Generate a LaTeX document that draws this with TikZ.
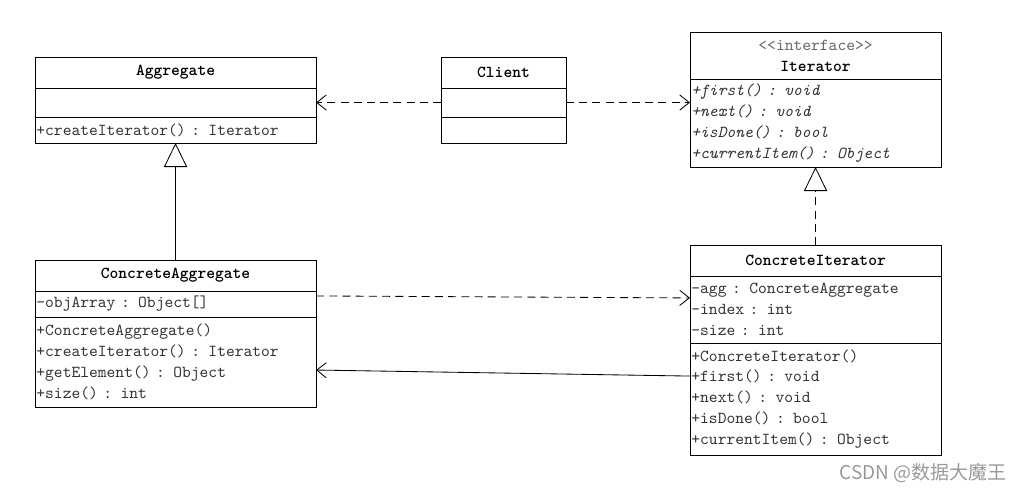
\documentclass[tikz,border=0pt]{standalone}
\usepackage{fontspec}
\setmonofont{lmmono10-regular.otf}[BoldFont=lmmonolt10-bold.otf, ItalicFont=lmmono10-italic.otf]
\newfontfamily\cjkfont{Noto Sans CJK SC}
\usetikzlibrary{positioning,arrows.meta}

\begin{document}
\begin{tikzpicture}[x=0.025cm, y=-0.025cm,
        umlfont/.style={font=\ttfamily\fontsize{11.9}{14.9}\selectfont},
        comp/.style={draw, line width=0.6pt, umlfont, text=black!80, inner xsep=1pt, inner ysep=0pt, outer sep=0pt, align=left, anchor=north},
        clstitle/.style={comp, font=\ttfamily\bfseries\fontsize{11.9}{14.9}\selectfont, text=black, align=center, minimum height=0.775cm},
        dep/.style={line width=0.6pt, dash pattern=on 0.2cm off 0.13cm, -{Straight Barb[length=2.4mm, width=3.8mm]}},
        assoc/.style={line width=0.6pt, -{Straight Barb[length=2.4mm, width=3.8mm]}},
        gen/.style={line width=0.6pt, -{Triangle[open, length=6mm, width=5.8mm]}}
    ]
        \useasboundingbox (0,0) rectangle (1024,493);

        % Aggregate
        \node[clstitle, text width=6.955cm, anchor=north west] (agg-t) at (35,57) {Aggregate};
        \node[comp, text width=6.955cm, minimum height=0.725cm, below=0pt of agg-t] (agg-a) {};
        \node[comp, text width=6.955cm, minimum height=0.65cm, below=0pt of agg-a] (agg-m) {+createIterator() : Iterator};

        % Client
        \node[clstitle, text width=3.055cm, anchor=north west] (cli-t) at (441,57) {Client};
        \node[comp, text width=3.055cm, minimum height=0.725cm, below=0pt of cli-t] (cli-a) {};
        \node[comp, text width=3.055cm, minimum height=0.65cm, below=0pt of cli-a] (cli-m) {};

        % Iterator
        \node[clstitle, text width=6.205cm, minimum height=1.175cm, anchor=north west] (it-t) at (690,32)
            {{\mdseries\color{black!60}<<interface>>}\\Iterator};
        \node[comp, text width=6.205cm, minimum height=2.2cm, below=0pt of it-t, font=\ttfamily\itshape\fontsize{11.9}{14.9}\selectfont] (it-m)
            {+first() : void\\+next() : void\\+isDone() : bool\\+currentItem() : Object};

        % ConcreteAggregate
        \node[clstitle, text width=6.955cm, anchor=north west] (cagg-t) at (35,260) {ConcreteAggregate};
        \node[comp, text width=6.955cm, minimum height=0.65cm, below=0pt of cagg-t] (cagg-a) {-objArray : Object[]};
        \node[comp, text width=6.955cm, minimum height=2.25cm, below=0pt of cagg-a] (cagg-m)
            {+ConcreteAggregate()\\+createIterator() : Iterator\\+getElement() : Object\\+size() : int};

        % ConcreteIterator
        \node[clstitle, text width=6.205cm, anchor=north west] (cit-t) at (690,245) {ConcreteIterator};
        \node[comp, text width=6.205cm, minimum height=1.675cm, below=0pt of cit-t] (cit-a)
            {-agg : ConcreteAggregate\\-index : int\\-size : int};
        \node[comp, text width=6.205cm, minimum height=2.8cm, below=0pt of cit-a] (cit-m)
            {+ConcreteIterator()\\+first() : void\\+next() : void\\+isDone() : bool\\+currentItem() : Object};

        \draw[dep] (cli-a.west) -- (agg-a.east);
        \draw[dep] (cli-a.east) -- (cli-a.east -| it-m.west);
        \draw[gen] (cagg-t.north) -- (agg-m.south);
        \draw[gen, dash pattern=on 0.2cm off 0.13cm] (cit-t.north) -- (it-m.south);
        \draw[dep] ([yshift=-3.5pt]cagg-a.north east) -- ([yshift=-15.6pt]cit-a.north west);
        \draw[assoc] ([yshift=-23.5pt]cit-m.north west) -- ([yshift=-37.7pt]cagg-m.north east);

        \node[font=\cjkfont\fontsize{13.5}{16}\selectfont, text=black!40, inner sep=0pt] (wm) at (923,473) {CSDN @数据大魔王};
    \end{tikzpicture}
\end{document}
